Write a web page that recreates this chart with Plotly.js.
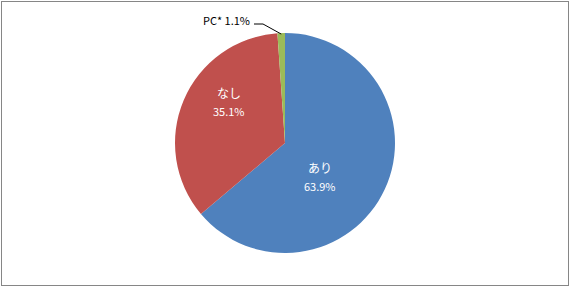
<!DOCTYPE html>
<html><head><meta charset="utf-8">
<script src="https://cdn.plot.ly/plotly-3.0.1.min.js"></script>
<style>
html,body{margin:0;padding:0;background:#fff;}
#wrap{position:absolute;left:0;top:0;width:570px;height:287px;}
#frame{position:absolute;left:1px;top:1px;width:566px;height:283px;border:1px solid #868686;pointer-events:none;}
#chart{position:absolute;left:0;top:0;width:570px;height:287px;}
</style></head>
<body><div id="wrap"><div id="chart"></div><div id="frame"></div></div>
<script>
const categories = ["あり", "なし", "PC*"];
const values = [63.9, 35.1, 1.1];
const colors = ["#4F81BD", "#C0504D", "#9BBB59"];

const W = 570, H = 287, cx = 285, cy = 143, R = 110;
const FONT = 'Noto Sans CJK JP, sans-serif';

const trace = {
  type: 'pie',
  labels: categories,
  values: values,
  sort: false,
  direction: 'clockwise',
  rotation: 0,
  marker: {colors: colors, line: {color: '#ffffff', width: 0}},
  textinfo: 'none',
  hoverinfo: 'none',
  showlegend: false,
  domain: {x: [(cx - R) / W, (cx + R) / W], y: [(H - cy - R) / H, (H - cy + R) / H]}
};

// label placement (layout, in pixels): centre of name line for inside labels
const labelPos = [[320, 167], [229, 92]];
const px2x = x => x / W, px2y = y => (H - y) / H;

const annotations = [];
for (let i = 0; i < 2; i++) {
  const [lx, ly] = labelPos[i];
  annotations.push({xref: 'paper', yref: 'paper', x: px2x(lx), y: px2y(ly), xanchor: 'center', yanchor: 'middle',
    text: categories[i], showarrow: false, font: {size: 12, color: '#ffffff', family: FONT}});
  annotations.push({xref: 'paper', yref: 'paper', x: px2x(lx), y: px2y(ly + 19), xanchor: 'center', yanchor: 'middle',
    text: values[i].toFixed(1) + '%', showarrow: false, font: {size: 11, color: '#ffffff', family: FONT}});
}

// PC* label with leader line, end point from data angle
const total = values.reduce((a, b) => a + b, 0);
const cum = values[0] + values[1];
const ang = (cum + values[2] / 2) / total * 2 * Math.PI;
const ex = cx + (R - 1) * Math.sin(ang), ey = cy - (R - 1) * Math.cos(ang);

annotations.push({xref: 'paper', yref: 'paper', x: px2x(252), y: px2y(20), xanchor: 'right', yanchor: 'middle',
  text: categories[2] + ' ' + values[2].toFixed(1) + '%', showarrow: false,
  font: {size: 11, color: '#000000', family: FONT}});

const layout = {
  width: W, height: H,
  margin: {l: 0, r: 0, t: 0, b: 0},
  paper_bgcolor: '#ffffff',
  plot_bgcolor: '#ffffff',
  font: {family: FONT},
  shapes: [
    {type: 'path', xref: 'paper', yref: 'paper',
     path: 'M ' + px2x(254) + ' ' + px2y(24) + ' L ' + px2x(263) + ' ' + px2y(24) + ' L ' + px2x(ex) + ' ' + px2y(ey),
     line: {color: '#000000', width: 1}}
  ],
  annotations: annotations
};
Plotly.newPlot('chart', [trace], layout, {displayModeBar: false, staticPlot: true});
</script></body></html>
